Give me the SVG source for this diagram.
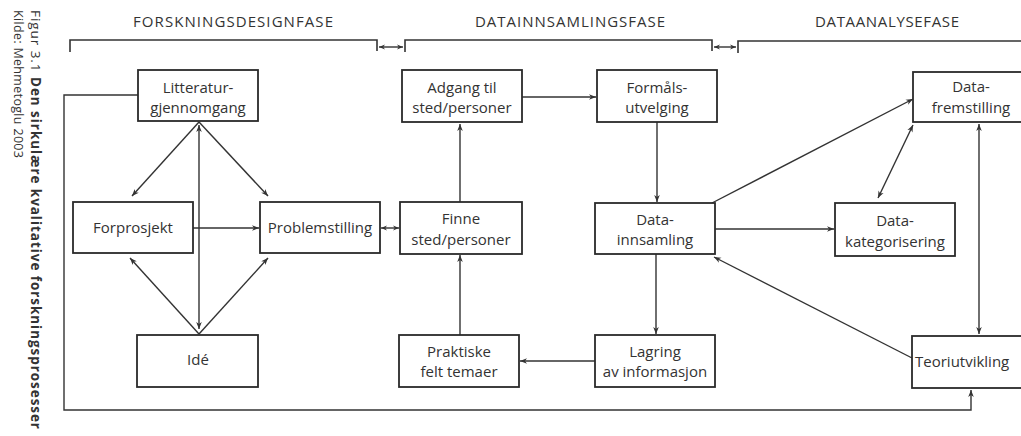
<svg xmlns="http://www.w3.org/2000/svg" width="1021" height="436" viewBox="0 0 1021 436">
<style>
  .box{fill:#fff;stroke:#2a2a2a;stroke-width:1.8}
  .t{font-family:"Open Sans","DejaVu Sans",sans-serif;font-size:15px;fill:#333;text-anchor:middle}
  .h{font-family:"Open Sans","DejaVu Sans",sans-serif;font-size:15px;fill:#333}
  .cap{font-family:"Open Sans","DejaVu Sans",sans-serif;fill:#333}
  .c{fill:none;stroke:#333;stroke-width:1.4}
  .br{fill:none;stroke:#333;stroke-width:1.6}
  .a{marker-end:url(#ah)}
  .d{marker-start:url(#ah);marker-end:url(#ah)}
  .s{marker-start:url(#sh);marker-end:url(#sh)}
</style>
<defs>
  <marker id="ah" viewBox="0 0 10 10" refX="10" refY="5" markerWidth="8" markerHeight="7" orient="auto-start-reverse" markerUnits="userSpaceOnUse">
    <path d="M0,1 L10,5 L0,9 L3,5 z" fill="#333"/>
  </marker>
  <marker id="sh" viewBox="0 0 10 10" refX="10" refY="5" markerWidth="6" markerHeight="6" orient="auto-start-reverse" markerUnits="userSpaceOnUse">
    <path d="M0,1 L10,5 L0,9 L3,5 z" fill="#333"/>
  </marker>
</defs>
<rect width="1021" height="436" fill="#fff"/>

<g id="caption">
  <text class="cap" font-size="13.5" transform="translate(31,10) rotate(90)" textLength="419" lengthAdjust="spacing">Figur 3.1 <tspan font-weight="bold">Den sirkulære kvalitative forskningsprosesser</tspan></text>
  <text class="cap" font-size="12.5" transform="translate(14,10) rotate(90)" textLength="148" lengthAdjust="spacing">Kilde: Mehmetoglu 2003</text>
</g>

<g id="phases">
  <text class="h" x="133" y="27" textLength="200" lengthAdjust="spacing">FORSKNINGSDESIGNFASE</text>
  <text class="h" x="475" y="27" textLength="190" lengthAdjust="spacing">DATAINNSAMLINGSFASE</text>
  <text class="h" x="815" y="27" textLength="144" lengthAdjust="spacing">DATAANALYSEFASE</text>
  <path class="br" d="M70,52 V40 H377 V51"/>
  <path class="br" d="M405,52 V40 H712 V51"/>
  <path class="br" d="M738,53 V41 H1021"/>
</g>

<g id="connectors">
  <line class="c s" x1="379" y1="47" x2="403" y2="47"/>
  <line class="c s" x1="714" y1="47" x2="736" y2="47"/>
  <line class="c a" x1="199" y1="122" x2="132" y2="196"/>
  <line class="c a" x1="199" y1="122" x2="268" y2="196"/>
  <line class="c d" x1="199" y1="125" x2="199" y2="329"/>
  <line class="c a" x1="199" y1="334" x2="130" y2="258"/>
  <line class="c a" x1="199" y1="334" x2="268" y2="258"/>
  <line class="c a" x1="193" y1="228" x2="259" y2="228"/>
  <line class="c s" x1="381" y1="228" x2="399" y2="228"/>
  <line class="c a" x1="460" y1="202" x2="460" y2="124"/>
  <line class="c a" x1="522" y1="97" x2="596" y2="97"/>
  <line class="c a" x1="657" y1="122" x2="657" y2="202"/>
  <line class="c a" x1="656" y1="254" x2="656" y2="334"/>
  <line class="c a" x1="595" y1="361" x2="520" y2="361"/>
  <line class="c a" x1="460" y1="335" x2="460" y2="255"/>
  <line class="c a" x1="715" y1="229" x2="834" y2="229"/>
  <line class="c a" x1="712" y1="203" x2="913" y2="99"/>
  <line class="c d" x1="878" y1="198" x2="913" y2="125"/>
  <line class="c d" x1="979" y1="124" x2="979" y2="334"/>
  <line class="c a" x1="912" y1="358" x2="714" y2="257"/>
  <path class="c a" d="M138,95 H64 V410 H971 V390"/>
</g>

<g id="litteratur">
  <rect class="box" x="138" y="70" width="120" height="51"/>
  <text class="t" x="198" y="93">Litteratur-</text>
  <text class="t" x="198" y="113">gjennomgang</text>
</g>
<g id="forprosjekt">
  <rect class="box" x="73" y="202" width="120" height="51"/>
  <text class="t" x="133" y="233">Forprosjekt</text>
</g>
<g id="problemstilling">
  <rect class="box" x="260" y="202" width="120" height="51"/>
  <text class="t" x="320" y="233">Problemstilling</text>
</g>
<g id="ide">
  <rect class="box" x="137" y="335" width="121" height="52"/>
  <text class="t" x="198" y="365">Idé</text>
</g>
<g id="adgang">
  <rect class="box" x="402" y="70" width="120" height="52"/>
  <text class="t" x="462" y="93">Adgang til</text>
  <text class="t" x="462" y="113">sted/personer</text>
</g>
<g id="finne">
  <rect class="box" x="400" y="202" width="122" height="52"/>
  <text class="t" x="461" y="224">Finne</text>
  <text class="t" x="461" y="245">sted/personer</text>
</g>
<g id="praktiske">
  <rect class="box" x="399" y="335" width="120" height="52"/>
  <text class="t" x="459" y="357">Praktiske</text>
  <text class="t" x="459" y="377">felt temaer</text>
</g>
<g id="formal">
  <rect class="box" x="597" y="70" width="120" height="52"/>
  <text class="t" x="657" y="93">Formåls-</text>
  <text class="t" x="657" y="113">utvelging</text>
</g>
<g id="innsamling">
  <rect class="box" x="595" y="203" width="120" height="51"/>
  <text class="t" x="655" y="225">Data-</text>
  <text class="t" x="655" y="245">innsamling</text>
</g>
<g id="lagring">
  <rect class="box" x="595" y="335" width="120" height="52"/>
  <text class="t" x="655" y="357">Lagring</text>
  <text class="t" x="655" y="377">av informasjon</text>
</g>
<g id="kategorisering">
  <rect class="box" x="835" y="203" width="120" height="53"/>
  <text class="t" x="895" y="226">Data-</text>
  <text class="t" x="895" y="247">kategorisering</text>
</g>
<g id="fremstilling">
  <rect class="box" x="913" y="72" width="120" height="50"/>
  <text class="t" x="971" y="92">Data-</text>
  <text class="t" x="971" y="113">fremstilling</text>
</g>
<g id="teoriutvikling">
  <rect class="box" x="912" y="336" width="121" height="52"/>
  <text class="t" x="915" y="367" style="text-anchor:start">Teoriutvikling</text>
</g>
</svg>
